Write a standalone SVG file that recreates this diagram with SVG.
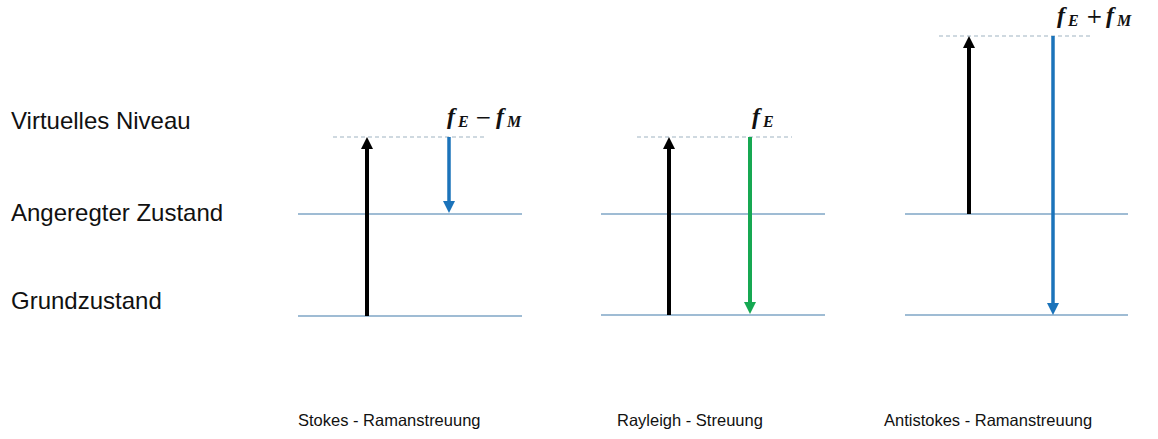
<svg xmlns="http://www.w3.org/2000/svg" width="1158" height="439" viewBox="0 0 1158 439">
<style>
.lbl{font-family:"Liberation Sans",Arial,sans-serif;font-size:24px;fill:#111}
.cap{font-family:"Liberation Sans",Arial,sans-serif;font-size:16.5px;fill:#111}
.math{font-family:"Liberation Serif","Times New Roman",serif;font-size:24px;font-weight:bold;font-style:italic;fill:#111}
.sub{font-size:16px}
.op{font-family:"DejaVu Serif",serif;font-size:20px;font-style:normal;font-weight:normal}
.lvl{stroke:#7fa6c6;stroke-width:1.3}
.virt{stroke:#9fb3c2;stroke-width:1.2;stroke-dasharray:4 3}
.blk{stroke:#000;stroke-width:4}
.blu{stroke:#1b73ba;stroke-width:3.5}
.grn{stroke:#16a852;stroke-width:4}
</style>
<defs>
<marker id="upB" markerUnits="userSpaceOnUse" markerWidth="12" markerHeight="12" refX="6" refY="10" viewBox="0 0 12 12"><path d="M0,12 L12,12 L6,0 Z" fill="#000"/></marker>
<marker id="dnBlu" markerUnits="userSpaceOnUse" markerWidth="12" markerHeight="12" refX="6" refY="2" viewBox="0 0 12 12"><path d="M0,0 L12,0 L6,12 Z" fill="#1b73ba"/></marker>
<marker id="dnG" markerUnits="userSpaceOnUse" markerWidth="12" markerHeight="12" refX="6" refY="2" viewBox="0 0 12 12"><path d="M0,0 L12,0 L6,12 Z" fill="#16a852"/></marker>
</defs>
<g id="labels">
<text class="lbl" x="11" y="129">Virtuelles Niveau</text>
<text class="lbl" x="11" y="221">Angeregter Zustand</text>
<text class="lbl" x="11" y="309">Grundzustand</text>
</g>
<g id="stokes">
<line class="virt" x1="333" y1="137" x2="487" y2="137"/>
<line class="lvl" x1="298" y1="214" x2="522" y2="214"/>
<line class="lvl" x1="298" y1="316" x2="522" y2="316"/>
<text class="math" y="124"><tspan x="447">f</tspan><tspan class="sub" x="458" dy="3">E</tspan><tspan class="op" x="475" dy="-3">−</tspan><tspan x="496">f</tspan><tspan class="sub" x="507" dy="3">M</tspan></text>
<text class="cap" x="298" y="426">Stokes - Ramanstreuung</text>
</g>
<g id="rayleigh">
<line class="virt" x1="637" y1="137" x2="792" y2="137"/>
<line class="lvl" x1="601" y1="214" x2="825" y2="214"/>
<line class="lvl" x1="601" y1="315" x2="825" y2="315"/>
<text class="math" y="124"><tspan x="752">f</tspan><tspan class="sub" x="763" dy="3">E</tspan></text>
<text class="cap" x="617" y="426">Rayleigh - Streuung</text>
</g>
<g id="antistokes">
<line class="virt" x1="939" y1="36" x2="1093" y2="36"/>
<line class="lvl" x1="905" y1="214" x2="1128" y2="214"/>
<line class="lvl" x1="905" y1="315" x2="1128" y2="315"/>
<text class="math" y="23"><tspan x="1057">f</tspan><tspan class="sub" x="1068" dy="3">E</tspan><tspan class="op" x="1086" dy="-3">+</tspan><tspan x="1106">f</tspan><tspan class="sub" x="1117" dy="3">M</tspan></text>
<text class="cap" x="884" y="426">Antistokes - Ramanstreuung</text>
</g>
<g id="connectors">
<line class="blk" x1="367" y1="316" x2="367" y2="147" marker-end="url(#upB)"/>
<line class="blu" x1="449" y1="137" x2="449" y2="203" marker-end="url(#dnBlu)"/>
<line class="blk" x1="669" y1="315" x2="669" y2="147" marker-end="url(#upB)"/>
<line class="grn" x1="750" y1="137" x2="750" y2="304" marker-end="url(#dnG)"/>
<line class="blk" x1="969" y1="214" x2="969" y2="46" marker-end="url(#upB)"/>
<line class="blu" x1="1053" y1="36" x2="1053" y2="305" marker-end="url(#dnBlu)"/>
</g>
</svg>
